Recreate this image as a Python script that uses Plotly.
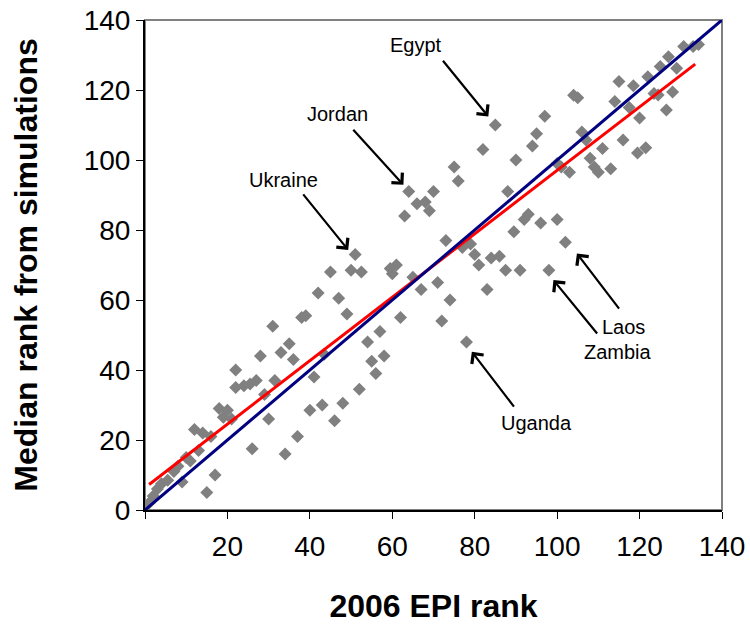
import plotly.graph_objects as go

# ---- data ----
epi_rank = [1, 2, 3, 4, 5.5, 7, 8, 9, 10, 11, 13, 12, 14, 16, 17, 15, 18, 20, 19, 21,
            22, 22, 24, 25.5, 27, 26, 28, 29, 30, 31, 31.5, 33, 34, 35, 36, 37, 38, 39, 40, 41,
            42, 43, 43.5, 45, 46, 47, 48, 49, 50, 51, 52, 52.5, 54, 55, 56, 57, 58, 59.5, 60, 61,
            62, 63, 64, 65, 66, 67, 68, 69, 70, 71, 72, 73, 74, 75, 76, 77, 78, 79, 80, 81,
            82, 83, 84, 85, 86, 87.5, 88, 89.5, 90, 91, 92, 93, 94, 95, 96, 97, 98, 100, 100, 101,
            102, 103, 104, 105, 106, 107, 108, 109, 110, 111, 113, 114, 115, 116, 117.5, 118.5, 119.5, 120, 121.5, 122,
            123.5, 124.5, 125, 126.5, 127, 128, 129, 130.7, 133, 134.3]
median_rank = [2, 4, 6, 7.5, 8.5, 11, 12.5, 8, 15, 14, 17, 23, 22, 21, 10, 5, 29, 28.5, 26.5, 26,
               40, 35, 35.5, 36, 37, 17.5, 44, 33, 26, 52.5, 37, 45, 16, 47.5, 43, 21, 55, 55.5, 28.5, 38,
               62, 30, 44.5, 68, 25.5, 60.5, 30.5, 56, 68.5, 73, 34.5, 68, 48, 42.5, 39, 51, 44, 69, 67.5, 70,
               55, 84, 91, 66.5, 87.5, 63, 88, 85.5, 91, 65, 54, 77, 60, 98, 94, 75, 48, 76, 73, 70,
               103, 63, 72, 110, 72.5, 68.5, 91, 79.5, 100, 68.5, 83, 84.5, 104, 107.5, 82, 112.5, 68.5, 83, 99, 98,
               76.5, 96.5, 118.5, 117.8, 108, 105.7, 100.5, 98, 96.5, 103.3, 97.5, 116.7, 122.4, 105.7, 115, 121.2, 102, 112, 103.5, 123.8,
               119, 118.6, 126.7, 114.3, 129.5, 119.4, 126.2, 132.4, 132.4, 133]

fit_x = [1, 133.5]
fit_y = [7.3, 127.4]
ref_x = [0, 140]
ref_y = [0, 140]

x_ticks = [0, 20, 40, 60, 80, 100, 120, 140]
x_tick_text = ["", "20", "40", "60", "80", "100", "120", "140"]
y_ticks = [0, 20, 40, 60, 80, 100, 120, 140]

# label name, text position (x, y), arrow head (x, y), arrow tail (x, y)
labels = ["Egypt", "Jordan", "Ukraine", "Uganda", "Zambia", "Laos"]
label_x = [65.7, 46.6, 33.5, 94.9, 114.8, 116.0]
label_y = [132.9, 113.1, 94.3, 24.9, 45.1, 52.3]
head_x = [83.3, 62.7, 49.3, 79.3, 99.1, 104.8]
head_y = [112.4, 92.9, 74.3, 45.2, 65.7, 73.3]
tail_x = [72.0, 50.2, 38.1, 89.8, 110.0, 115.3]
tail_y = [128.8, 109.1, 90.6, 29.1, 50.0, 57.1]

FONT = "Liberation Sans, Arial, sans-serif"

fig = go.Figure()
fig.add_trace(go.Scatter(
    x=epi_rank, y=median_rank, mode="markers",
    marker=dict(symbol="diamond", size=10, color="#808080", line=dict(width=0)),
    showlegend=False))
fig.add_trace(go.Scatter(
    x=fit_x, y=fit_y, mode="lines",
    line=dict(color="#FF0000", width=3), showlegend=False))
fig.add_trace(go.Scatter(
    x=ref_x, y=ref_y, mode="lines",
    line=dict(color="#000080", width=3), showlegend=False))

for name, lx, ly, hx, hy, tx, ty in zip(labels, label_x, label_y, head_x, head_y, tail_x, tail_y):
    fig.add_annotation(x=lx, y=ly, text=name, showarrow=False,
                       font=dict(family=FONT, size=20, color="black"))
    fig.add_annotation(x=hx, y=hy, ax=tx, ay=ty, axref="x", ayref="y",
                       text="", showarrow=True, arrowhead=4, arrowsize=1.3,
                       arrowwidth=2.2, arrowcolor="black")

fig.add_shape(type="rect", xref="paper", yref="paper", x0=0, y0=0, x1=1, y1=1,
              line=dict(color="#808080", width=2), layer="below")

fig.update_layout(
    width=750, height=624,
    margin=dict(l=145, r=28, t=20, b=114),
    paper_bgcolor="white", plot_bgcolor="white",
    font=dict(family=FONT, color="black"),
    xaxis=dict(range=[0, 140], tickvals=x_ticks, ticktext=x_tick_text, automargin=False,
               showgrid=False, zeroline=False, showline=True, linecolor="black", linewidth=2,
               ticks="outside", ticklen=7, tickwidth=1, tickcolor="black",
               ticklabelstandoff=3, ticklabeloverflow="allow", tickfont=dict(size=28),
               title=dict(text="<b>2006 EPI rank</b>", font=dict(size=32), standoff=36)),
    yaxis=dict(range=[0, 140], tickvals=y_ticks, automargin=False,
               showgrid=False, zeroline=False, showline=True, linecolor="black", linewidth=2,
               ticks="outside", ticklen=7, tickwidth=1, tickcolor="black",
               ticklabeloverflow="allow", tickfont=dict(size=28),
               title=dict(text="<b>Median rank from simulations</b>", font=dict(size=32), standoff=36)),
)

# remove the default page margin so the 750x624 figure fills the window exactly
fig.write_html("out.html",
               config={"displayModeBar": False},
               post_script="document.body.style.margin='0';document.body.style.overflow='hidden';")
